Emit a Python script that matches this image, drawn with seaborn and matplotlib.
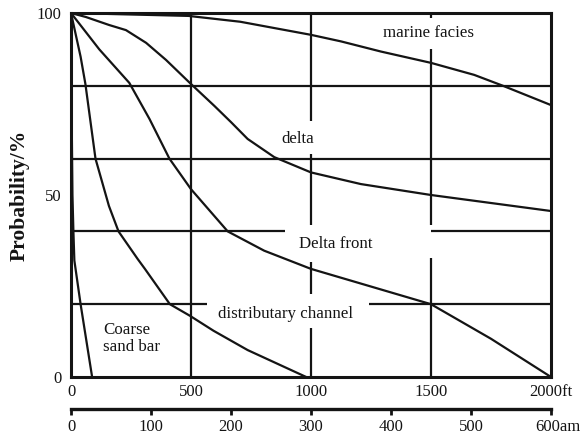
import numpy as np
import pandas as pd
import matplotlib
matplotlib.use("Agg")
import matplotlib.pyplot as plt
import seaborn as sns

# ---- data (distance in ft, probability in %) ----
coarse_x = [0, 3, 6, 10, 14, 40, 88]
coarse_y = [100, 70, 50, 40, 32, 20, 0]
channel_x = [0, 40, 60, 102, 158, 198, 278, 308, 412, 496, 594, 736, 980]
channel_y = [100, 88, 80.5, 60, 47, 40, 32.4, 29.7, 20, 16.8, 12.7, 7.4, 0]
front_x = [0, 118, 243, 327, 410, 500, 653, 805, 1000, 1232, 1500, 1750, 2000]
front_y = [100, 90, 80.8, 70.9, 60, 51.6, 40, 34.7, 29.7, 25.2, 20, 10.5, 0]
delta_x = [0, 62, 159, 229, 313, 396, 495, 597, 667, 736, 847, 1000, 1208, 1500, 2000]
delta_y = [100, 98.9, 96.7, 95.3, 91.8, 87.1, 80.8, 74.5, 70, 65.4, 60.4, 56.2, 53, 50, 45.6]
marine_x = [0, 490, 705, 1000, 1125, 1292, 1500, 1680, 1800, 2000]
marine_y = [100, 99.2, 97.6, 94, 92.2, 89.4, 86.3, 83, 80, 74.7]

ft_ticks = [0, 500, 1000, 1500, 2000]
ft_labels = ["0", "500", "1000", "1500", "2000ft"]
m_ticks = [0, 100, 200, 300, 400, 500, 600]
m_labels = ["0", "100", "200", "300", "400", "500", "600am"]
y_ticks = [0, 50, 100]
y_labels = ["0", "50", "100"]

# broken grid segments
h_y = [80, 60, 40, 40, 20, 20]
h_x0 = [0, 0, 0, 1500, 0, 1240]
h_x1 = [2000, 2000, 890, 2000, 568, 2000]
v_x = [500, 1000, 1000, 1000, 1000, 1500, 1500, 1500]
v_y0 = [0, 70.4, 41.8, 22.8, 0, 98.5, 41.8, 0]
v_y1 = [100, 100, 61.3, 31.7, 13.4, 100, 90, 32.7]

labels_txt = ["marine facies", "delta", "Delta front", "distributary channel"]
labels_x = [1490, 946, 1104, 892]
labels_y = [94.4, 65.4, 36.5, 17.3]

frames = []
for name, xs, ys in [("coarse", coarse_x, coarse_y), ("channel", channel_x, channel_y),
                     ("front", front_x, front_y), ("delta", delta_x, delta_y),
                     ("marine", marine_x, marine_y)]:
    frames.append(pd.DataFrame({"ft": xs, "p": ys, "facies": name}))
df = pd.concat(frames, ignore_index=True)

sns.set_theme(style="white")
plt.rcParams["font.family"] = ["Liberation Serif", "DejaVu Serif"]

ink = "#141414"
fig = plt.figure(figsize=(5.81, 4.36), dpi=100)
ax = fig.add_axes([71 / 581, 59 / 436, 480 / 581, 364 / 436])

for name in df["facies"].unique():
    sub = df[df["facies"] == name]
    sns.lineplot(data=sub, x="ft", y="p", ax=ax, color=ink, lw=1.6,
                 sort=False, estimator=None, legend=False)

ax.hlines(h_y, h_x0, h_x1, color=ink, lw=1.6)
ax.vlines(v_x, v_y0, v_y1, color=ink, lw=1.6)

for t, x, y in zip(labels_txt, labels_x, labels_y):
    ax.text(x, y, t, ha="center", va="center", fontsize=12.2, color=ink)
ax.text(133, 10.5, "Coarse\nsand bar", ha="left", va="center", fontsize=12.2,
        color=ink, linespacing=1.1)

ax.set_xlim(0, 2000)
ax.set_ylim(0, 100)
ax.set_xticks(ft_ticks)
ax.set_xticklabels(["0", "500", "1000", "1500", ""])
ax.set_yticks(y_ticks)
ax.set_yticklabels(y_labels)
ax.tick_params(axis="both", length=0, labelsize=12, colors=ink)
ax.tick_params(axis="x", pad=5)
ax.tick_params(axis="y", pad=7)
ax.set_xlabel("")
ax.set_ylabel("Probability/%", fontsize=15.5, fontweight="bold", color=ink)
ax.yaxis.set_label_coords(-0.086, 0.5)
for s in ax.spines.values():
    s.set_visible(True)
    s.set_color(ink)
    s.set_linewidth(2.2)
ax.annotate(ft_labels[-1], xy=(2000, 0), xycoords="data", xytext=(-16, -5),
            textcoords="offset points", ha="left", va="top", fontsize=12,
            color=ink, annotation_clip=False)

sec_loc = -0.088
sec = ax.secondary_xaxis(sec_loc, functions=(lambda x: x * 0.3, lambda m: m / 0.3))
sec.set_xticks(m_ticks)
sec.set_xticklabels(m_labels[:-1] + [""])
sec.tick_params(axis="x", direction="out", length=4, width=2, labelsize=12,
                colors=ink, pad=3)
sec.spines["bottom"].set_linewidth(2.4)
sec.spines["bottom"].set_color(ink)
ax.annotate(m_labels[-1], xy=(600 / 0.3, sec_loc), xycoords=("data", "axes fraction"),
            xytext=(-11, -7), textcoords="offset points", ha="left", va="top",
            fontsize=12, color=ink, annotation_clip=False)

fig.savefig("out.png", dpi=100, facecolor="white")
